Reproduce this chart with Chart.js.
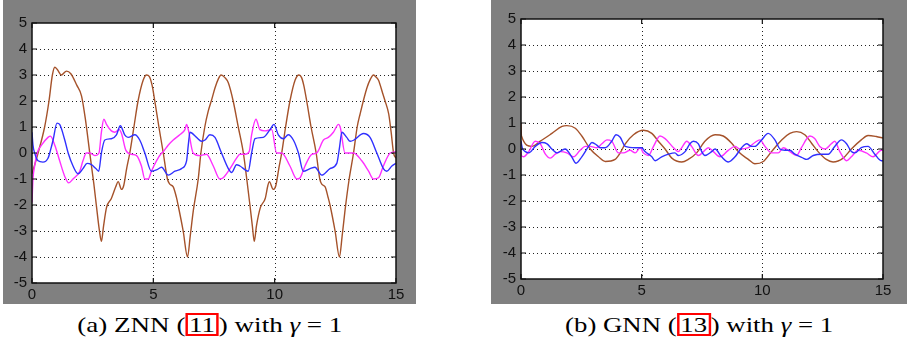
<!DOCTYPE html>
<html><head><meta charset="utf-8">
<script src="https://cdn.jsdelivr.net/npm/chart.js@4.4.1/dist/chart.umd.min.js"></script>
<style>
html,body{margin:0;padding:0;background:#fff;width:907px;height:342px;overflow:hidden;position:relative;}
.panel{position:absolute;background:#808080;}
canvas{display:block;}
.capwrap{position:absolute;text-align:center;}
.cap{display:inline-block;font-family:"Liberation Serif","DejaVu Serif",serif;font-size:22px;line-height:25px;color:#000;white-space:nowrap;transform-origin:50% 50%;}
.ref{display:inline-block;border:2px solid #ff0000;padding:0 1px;line-height:19px;height:19px;vertical-align:baseline;}
</style></head><body>
<div class="panel" style="left:3px;top:0;width:413px;height:304px"><canvas id="ca" width="413" height="304"></canvas></div>
<div class="panel" style="left:491px;top:0;width:416px;height:304px"><canvas id="cb" width="416" height="304"></canvas></div>
<div class="capwrap" style="left:0px;width:419px;top:312px"><span class="cap" data-w="265">(a) ZNN (<span class="ref">11</span>) with <i>γ</i> = 1</span></div>
<div class="capwrap" style="left:491px;width:416px;top:312px"><span class="cap" data-w="268">(b) GNN (<span class="ref">13</span>) with <i>γ</i> = 1</span></div>
<script>
const xTicks = [0, 5, 10, 15];
const yTicks = [-5, -4, -3, -2, -1, 0, 1, 2, 3, 4, 5];

// (a) ZNN, gamma = 1 : [t, value]
const znnBlue = [[0,0.8],[0.04,0.3],[0.11,0],[0.25,-0.3],[0.45,-0.35],[0.66,-0.2],[0.76,0.1],[0.87,0.5],[1.03,1.15],[1.14,1.1],[1.35,0.5],[1.49,0],[1.69,-0.5],[1.9,-0.8],[2.1,-0.6],[2.27,-0.4],[2.45,-0.45],[2.63,-0.6],[2.75,-0.7],[2.86,0],[3.0,0.5],[3.27,0.55],[3.48,0.7],[3.64,1.05],[3.82,0.7],[3.96,0.6],[4.24,0.7],[4.44,0.5],[4.65,0],[4.92,-0.7],[5.13,-0.65],[5.34,-0.55],[5.61,-0.85],[5.89,-0.7],[6.16,-0.6],[6.37,-0.3],[6.44,0.3],[6.51,0.8],[6.78,0.6],[6.99,0.45],[7.13,0.5],[7.33,0.7],[7.54,0.6],[7.81,0],[8.09,-0.6],[8.23,-0.75],[8.43,-0.45],[8.57,-0.5],[8.91,-0.7],[9.05,0],[9.19,0.55],[9.53,0.6],[9.81,0.9],[9.97,1.1],[10.15,0.7],[10.36,0.55],[10.56,0.7],[10.77,0.5],[10.98,0],[11.18,-0.7],[11.46,-0.6],[11.66,-0.55],[11.94,-0.85],[12.28,-0.6],[12.56,-0.4],[12.67,0.2],[12.77,0.8],[12.97,0.6],[13.11,0.45],[13.27,0.5],[13.66,0.75],[13.93,0.6],[14.21,0],[14.48,-0.6],[14.62,-0.7],[14.83,-0.5],[15,-0.4]];
const znnMagenta = [[0,-1.9],[0.04,-1.0],[0.11,-0.5],[0.21,0],[0.39,0.3],[0.66,0.6],[0.76,0.65],[0.94,0.3],[1.14,-0.3],[1.35,-0.9],[1.51,-1.15],[1.69,-1.0],[1.97,-0.7],[2.1,-0.3],[2.24,0],[2.38,0],[2.59,-0.1],[2.76,0],[2.86,0.8],[2.96,1.3],[3.07,1.1],[3.27,0.85],[3.41,0.8],[3.59,0.9],[3.69,0.75],[3.87,0.1],[4.1,-0.05],[4.31,-0.1],[4.51,-0.5],[4.65,-1.0],[4.79,-1.0],[4.92,-0.7],[5.13,-0.3],[5.34,0],[5.41,0.05],[5.61,0.3],[5.82,0.5],[6.09,0.7],[6.3,0.9],[6.37,1.1],[6.44,0.9],[6.64,0],[6.92,-0.1],[7.19,-0.05],[7.47,-0.5],[7.74,-1.0],[7.88,-0.95],[8.16,-0.6],[8.43,-0.2],[8.57,-0.05],[8.78,-0.05],[8.95,0.05],[9.05,0.7],[9.23,1.3],[9.39,0.9],[9.6,0.85],[9.88,0.9],[10.08,0],[10.29,0],[10.63,-0.5],[10.91,-1.0],[11.05,-0.95],[11.25,-0.5],[11.53,-0.05],[11.73,0],[12.01,0.5],[12.21,0.6],[12.42,0.8],[12.63,1.1],[12.7,1.0],[12.9,0],[13.25,0],[13.59,-0.3],[13.87,-0.7],[14.07,-1.0],[14.28,-0.95],[14.48,-0.5],[14.76,0],[15,0.05]];
const znnBrown = [[0,-0.8],[0.25,0],[0.52,1.0],[0.7,2.0],[0.84,3.0],[0.94,3.3],[1.05,3.2],[1.21,3.0],[1.42,3.15],[1.6,3.05],[1.85,2.6],[2.04,2.2],[2.2,1.3],[2.38,0],[2.55,-1.2],[2.65,-2.0],[2.78,-3.0],[2.86,-3.4],[2.95,-2.8],[3.07,-2.1],[3.27,-1.75],[3.45,-1.3],[3.55,-1.1],[3.69,-1.4],[3.78,-1.25],[3.9,-0.6],[4.03,0],[4.2,1.0],[4.37,2.0],[4.58,2.8],[4.72,3.0],[4.83,2.95],[4.95,2.6],[5.06,2.0],[5.23,1.0],[5.41,0],[5.58,-1.0],[5.68,-1.2],[5.82,-1.3],[5.95,-1.7],[6.02,-2.0],[6.23,-3.0],[6.41,-4.0],[6.52,-3.2],[6.65,-2.2],[6.85,-1.0],[6.96,0],[7.12,1.0],[7.26,1.6],[7.42,2.1],[7.54,2.5],[7.68,2.85],[7.79,3.0],[7.95,2.9],[8.09,2.7],[8.29,2.0],[8.5,1.0],[8.71,0],[8.85,-1.0],[8.98,-2.0],[9.08,-2.8],[9.16,-3.4],[9.25,-2.8],[9.41,-2.1],[9.61,-1.75],[9.72,-1.25],[9.78,-1.1],[9.94,-1.4],[10.05,-1.25],[10.17,-0.6],[10.29,0],[10.45,1.0],[10.63,2.0],[10.84,2.8],[11.0,3.0],[11.11,2.9],[11.2,2.6],[11.32,2.0],[11.5,1.0],[11.71,0],[11.86,-1.0],[11.94,-1.2],[12.08,-1.3],[12.2,-1.7],[12.28,-2.0],[12.49,-3.0],[12.67,-4.0],[12.78,-3.2],[12.9,-2.2],[13.07,-1.0],[13.25,0],[13.4,1.0],[13.52,1.5],[13.8,2.5],[13.95,2.85],[14.07,3.0],[14.2,2.9],[14.28,2.8],[14.45,2.3],[14.55,2.0],[14.7,1.5],[14.8,0.8],[14.9,0],[15,-0.2]];

// (b) GNN, gamma = 1 : [t, value]
const gnnBlue = [[0,0.3],[0.05,0.05],[0.18,-0.1],[0.32,-0.15],[0.59,0.1],[0.87,0.25],[1.08,0.2],[1.28,0],[1.49,-0.15],[1.69,-0.05],[1.83,0],[2.1,-0.3],[2.28,-0.55],[2.52,-0.3],[2.8,0.1],[2.94,0.25],[3.14,0.15],[3.28,0.05],[3.49,0.05],[3.76,0.3],[3.94,0.55],[4.11,0.45],[4.32,0.1],[4.73,0.05],[5.0,0.05],[5.14,-0.1],[5.42,-0.3],[5.56,-0.45],[5.83,-0.3],[6.11,-0.2],[6.38,-0.15],[6.52,-0.25],[6.8,-0.1],[7.0,0.2],[7.14,0.3],[7.35,0.2],[7.49,-0.1],[7.62,-0.25],[7.9,-0.1],[8.04,0],[8.31,-0.3],[8.59,-0.5],[8.87,-0.3],[9.14,0.05],[9.35,0.2],[9.55,0.1],[9.69,0.1],[9.97,0.35],[10.24,0.6],[10.52,0.35],[10.73,0],[10.93,-0.05],[11.14,-0.05],[11.35,-0.2],[11.69,-0.35],[11.83,-0.4],[12.11,-0.25],[12.45,-0.2],[12.73,-0.2],[13.0,0.1],[13.28,0.35],[13.49,0.2],[13.69,-0.1],[13.83,-0.15],[14.1,0.05],[14.38,0.1],[14.66,-0.2],[14.93,-0.45],[15,-0.45]];
const gnnMagenta = [[0,-0.1],[0.02,-0.25],[0.11,-0.3],[0.32,-0.1],[0.59,0.3],[0.8,0.2],[1.01,-0.2],[1.21,-0.35],[1.42,-0.2],[1.63,-0.1],[1.9,-0.15],[2.18,-0.3],[2.45,-0.05],[2.66,0.1],[2.87,0.1],[3.14,0.05],[3.35,0.2],[3.56,0.35],[3.76,0.3],[4.04,-0.15],[4.25,-0.15],[4.52,-0.05],[4.73,-0.15],[4.94,0.05],[5.07,-0.15],[5.28,-0.25],[5.49,0.1],[5.76,0.5],[5.97,0.4],[6.32,0.05],[6.52,-0.1],[6.66,0.05],[6.87,0.3],[7.07,0.1],[7.35,-0.25],[7.56,-0.1],[7.76,0.05],[7.97,-0.1],[8.24,-0.3],[8.59,-0.05],[8.87,0.1],[9.07,0],[9.42,0.05],[9.69,0.25],[9.9,0.35],[10.11,0.1],[10.38,-0.15],[10.66,-0.15],[10.87,0.05],[11.14,-0.1],[11.42,-0.25],[11.62,0.05],[11.97,0.5],[12.17,0.4],[12.38,0.1],[12.59,0],[12.86,0.2],[13.0,0.3],[13.21,-0.1],[13.49,-0.45],[13.69,-0.3],[13.97,-0.05],[14.31,-0.15],[14.59,-0.3],[14.93,-0.05],[15,-0.05]];
const gnnBrown = [[0,1.0],[0.02,0.5],[0.45,0.1],[0.8,0.3],[1.28,0.6],[1.7,0.87],[1.9,0.9],[2.25,0.8],[2.52,0.5],[2.87,0],[3.21,-0.3],[3.49,-0.48],[3.9,-0.4],[4.11,-0.15],[4.32,0.2],[4.66,0.55],[5.07,0.72],[5.42,0.6],[5.69,0.3],[5.97,0],[6.25,-0.35],[6.66,-0.5],[6.93,-0.4],[7.28,-0.15],[7.62,0.3],[8.04,0.55],[8.38,0.5],[8.73,0.22],[9.0,-0.1],[9.42,-0.4],[9.69,-0.57],[10.04,-0.48],[10.38,-0.1],[10.8,0.35],[11.14,0.6],[11.42,0.67],[11.76,0.55],[12.04,0.22],[12.31,-0.1],[12.65,-0.4],[12.93,-0.5],[13.35,-0.35],[13.69,0],[14.1,0.35],[14.38,0.52],[14.72,0.48],[15,0.42]];

const BLUE = '#3030ff', MAGENTA = '#ff30ff', BROWN = '#a5522a';

function pts(arr){ return arr.map(p => ({x:p[0], y:p[1]})); }

const framePlugin = {
  id: 'matlabFrame',
  beforeDraw(chart){
    const {ctx, chartArea:a} = chart;
    ctx.save(); ctx.fillStyle = '#fff';
    ctx.fillRect(a.left, a.top, a.right - a.left, a.bottom - a.top);
    ctx.restore();
  },
  beforeDatasetsDraw(chart){
    const {ctx, chartArea:a, scales:{x, y}} = chart;
    ctx.save();
    ctx.strokeStyle = '#222'; ctx.lineWidth = 1; ctx.setLineDash([1, 3]);
    yTicks.slice(1, -1).forEach(v => {
      const p = Math.round(y.getPixelForValue(v)) + 0.5;
      ctx.beginPath(); ctx.moveTo(a.left, p); ctx.lineTo(a.right, p); ctx.stroke();
    });
    xTicks.slice(1, -1).forEach(v => {
      const p = Math.round(x.getPixelForValue(v)) + 0.5;
      ctx.beginPath(); ctx.moveTo(p, a.top); ctx.lineTo(p, a.bottom); ctx.stroke();
    });
    ctx.restore();
  },
  afterDatasetsDraw(chart){
    const {ctx, chartArea:a, scales:{x, y}} = chart;
    ctx.save();
    ctx.strokeStyle = '#111'; ctx.lineWidth = 1.5; ctx.setLineDash([]);
    ctx.strokeRect(a.left, a.top, a.right - a.left, a.bottom - a.top);
    ctx.lineWidth = 1.2; const L = 5;
    yTicks.forEach(v => {
      const p = y.getPixelForValue(v);
      ctx.beginPath(); ctx.moveTo(a.left, p); ctx.lineTo(a.left + L, p);
      ctx.moveTo(a.right, p); ctx.lineTo(a.right - L, p); ctx.stroke();
    });
    xTicks.forEach(v => {
      const p = x.getPixelForValue(v);
      ctx.beginPath(); ctx.moveTo(p, a.bottom); ctx.lineTo(p, a.bottom - L);
      ctx.moveTo(p, a.top); ctx.lineTo(p, a.top + L); ctx.stroke();
    });
    ctx.restore();
  }
};

function makeChart(id, series, geo){
  const tickFont = {family: '"Liberation Sans", Arial, sans-serif', size: 15};
  return new Chart(document.getElementById(id), {
    type: 'line',
    data: {
      datasets: series.map(s => ({
        data: pts(s.data), borderColor: s.color, borderWidth: 1.4,
        pointRadius: 0, fill: false, cubicInterpolationMode: 'monotone'
      }))
    },
    options: {
      responsive: false, animation: false, devicePixelRatio: 1,
      layout: {padding: {left: 0, top: geo.top, right: geo.right, bottom: 0}},
      plugins: {legend: {display: false}, tooltip: {enabled: false}},
      scales: {
        x: {
          type: 'linear', min: 0, max: 15,
          grid: {display: false, drawTicks: false}, border: {display: false},
          ticks: {font: tickFont, color: '#111', padding: 3, maxRotation: 0, autoSkip: false},
          afterBuildTicks(s){ s.ticks = xTicks.map(v => ({value: v})); },
          afterFit(s){ s.height = geo.xh; }
        },
        y: {
          type: 'linear', min: -5, max: 5,
          grid: {display: false, drawTicks: false}, border: {display: false},
          ticks: {font: tickFont, color: '#111', padding: 5, autoSkip: false},
          afterBuildTicks(s){ s.ticks = yTicks.map(v => ({value: v})); },
          afterFit(s){ s.width = geo.yw; }
        }
      }
    },
    plugins: [framePlugin]
  });
}

makeChart('ca', [
  {data: znnBlue, color: BLUE},
  {data: znnMagenta, color: MAGENTA},
  {data: znnBrown, color: BROWN}
], {top: 23, right: 20, xh: 21, yw: 29});

makeChart('cb', [
  {data: gnnBlue, color: BLUE},
  {data: gnnMagenta, color: MAGENTA},
  {data: gnnBrown, color: BROWN}
], {top: 19, right: 24, xh: 25, yw: 30});

document.querySelectorAll('.cap').forEach(el => {
  const w = el.getBoundingClientRect().width;
  const target = parseFloat(el.dataset.w);
  el.style.transform = 'scaleX(' + (target / w).toFixed(3) + ')';
});
</script>
</body></html>
